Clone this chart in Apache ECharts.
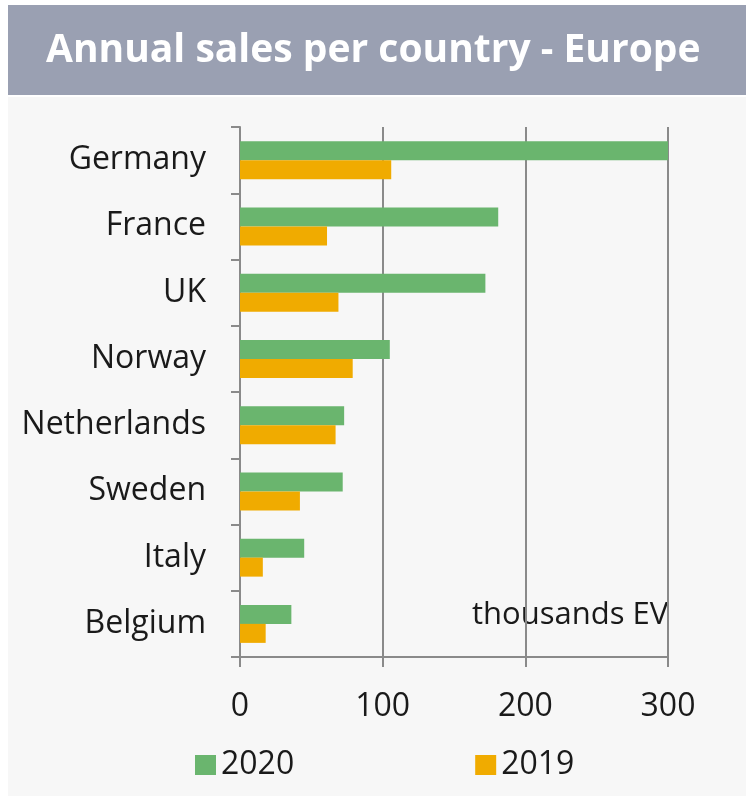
<!DOCTYPE html>
<html><head><meta charset="utf-8">
<script src="https://cdn.jsdelivr.net/npm/echarts@6/dist/echarts.min.js"></script>
<style>html,body{margin:0;padding:0;background:#fff}#c{width:746px;height:796px}</style>
</head><body><div id="c"></div>
<script>
const categories = ['Germany','France','UK','Norway','Netherlands','Sweden','Italy','Belgium'];
const sales2020 = [300,181,172,105,73,72,45,36];
const sales2019 = [106,61,69,79,67,42,16,18];
const xTicks = [0,100,200,300];
const titleText = 'Annual sales per country - Europe';
const unitText = 'thousands EV';

const font = '"Open Sans", sans-serif';
const chart = echarts.init(document.getElementById('c'));
chart.setOption({
  backgroundColor: '#ffffff',
  animation: false,
  graphic: [
    {type:'rect', left:8, top:97, shape:{width:738, height:699}, style:{fill:'#f7f7f7'}, z:-10},
    {type:'rect', left:8, top:5, shape:{width:738, height:90}, style:{fill:'#9aa0b2'}, z:-10},
    {type:'text', x:46, y:51, style:{text:titleText, fill:'#fff', font:'bold 39px ' + font, verticalAlign:'middle'}},
    {type:'text', x:472, y:615, style:{text:unitText, fill:'#1a1a1a', font:'31px ' + font, verticalAlign:'middle'}}
  ],
  grid: {left:240, right:78, top:127, bottom:139, containLabel:false},
  legend: {
    left:190, top:744, itemWidth:21, itemHeight:20, itemGap:181,
    icon:'rect',
    textStyle:{fontSize:32, fontFamily:font, color:'#1a1a1a'},
    data:['2020','2019']
  },
  xAxis: {
    type:'value', min:0, max:300, interval:100,
    axisLine:{show:true, lineStyle:{color:'#8a8a8a', width:2}},
    axisTick:{show:true, length:10, lineStyle:{color:'#8a8a8a', width:2}},
    splitLine:{show:true, lineStyle:{color:'#8a8a8a', width:2}},
    axisLabel:{fontSize:32, fontFamily:font, color:'#1a1a1a', margin:34,
      formatter: v => xTicks.includes(v) ? String(v) : ''}
  },
  yAxis: {
    type:'category', inverse:true, data:categories,
    axisLine:{show:true, lineStyle:{color:'#8a8a8a', width:2}},
    axisTick:{show:true, length:9, lineStyle:{color:'#8a8a8a', width:2}},
    axisLabel:{fontSize:32, fontFamily:font, color:'#1a1a1a', margin:34, padding:[4,0,0,0]}
  },
  series: [
    {name:'2020', type:'bar', data:sales2020, barWidth:19, barGap:'0%', itemStyle:{color:'#6ab56e'}},
    {name:'2019', type:'bar', data:sales2019, barWidth:19, barGap:'0%', itemStyle:{color:'#f0ab00'}}
  ]
});
</script></body></html>
